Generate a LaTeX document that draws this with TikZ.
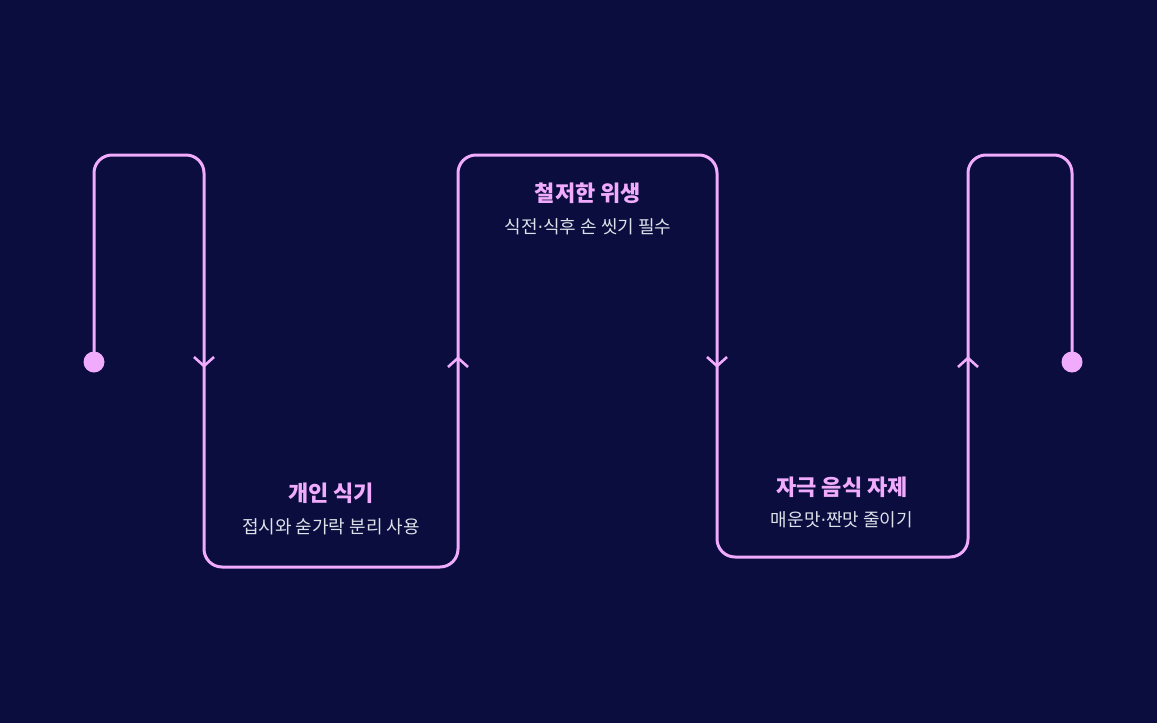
\documentclass[tikz,border=0pt]{standalone}
\usepackage{fontspec}
\setmainfont{Noto Sans CJK KR}
\newfontfamily\dotfont{DejaVu Sans}
\usepackage{tikz}
\usetikzlibrary{arrows.meta, positioning, calc}
\usepackage{xcolor}
\definecolor{dietbg}{HTML}{0A0D3D}
\definecolor{dietpink}{HTML}{F0ABFC}
\definecolor{dietgray}{HTML}{DDE1EA}
\newcommand{\dietdot}{{\dotfont ·}}

\begin{document}
\begin{tikzpicture}[x=1pt, y=-1pt, >=Stealth,
    trail/.style={draw=dietpink, line width=3pt, rounded corners=18pt},
    chev/.style={draw=dietpink, line width=2.6pt},
    headtext/.style={font=\fontsize{22}{26}\selectfont\bfseries, text=dietpink},
    subtext/.style={font=\fontsize{18}{21}\selectfont, text=dietgray}]
  % background
  \fill[dietbg] (0, 0) rectangle (1157, 723);
  \useasboundingbox (0, 0) rectangle (1157, 723);

  % ends of the trail
  \coordinate (start) at (94, 362);
  \coordinate (finish) at (1072, 362);

  % the trail
  \draw[trail] (start) -- (94, 155) -- (204, 155) -- (204, 567)
    -- (458, 567) -- (458, 155) -- (717, 155) -- (717, 557)
    -- (968, 557) -- (968, 155) -- (1072, 155) -- (finish);
  \fill[dietpink] (start) circle (10.5);
  \fill[dietpink] (finish) circle (10.5);

  % direction marks
  \coordinate (down1) at (204, 366);
  \coordinate (up1) at (458, 358);
  \coordinate (down2) at (717, 366);
  \coordinate (up2) at (968, 358);
  \draw[chev] ($(down1)+(-10,-9)$) -- (down1) -- ($(down1)+(10,-9)$);
  \draw[chev] ($(up1)+(-10,9)$) -- (up1) -- ($(up1)+(10,9)$);
  \draw[chev] ($(down2)+(-10,-9)$) -- (down2) -- ($(down2)+(10,-9)$);
  \draw[chev] ($(up2)+(-10,9)$) -- (up2) -- ($(up2)+(10,9)$);

  % labels
  \node[headtext] (own) at (331, 493) {개인 식기};
  \node[subtext] (ownsub) at (331, 527) {접시와 숟가락 분리 사용};
  \node[headtext] (clean) at (588, 193) {철저한 위생};
  \node[subtext] (cleansub) at (588, 227) {식전\dietdot 식후 손 씻기 필수};
  \node[headtext] (mild) at (842, 487) {자극 음식 자제};
  \node[subtext] (mildsub) at (842, 520) {매운맛\dietdot 짠맛 줄이기};
\end{tikzpicture}
\end{document}
